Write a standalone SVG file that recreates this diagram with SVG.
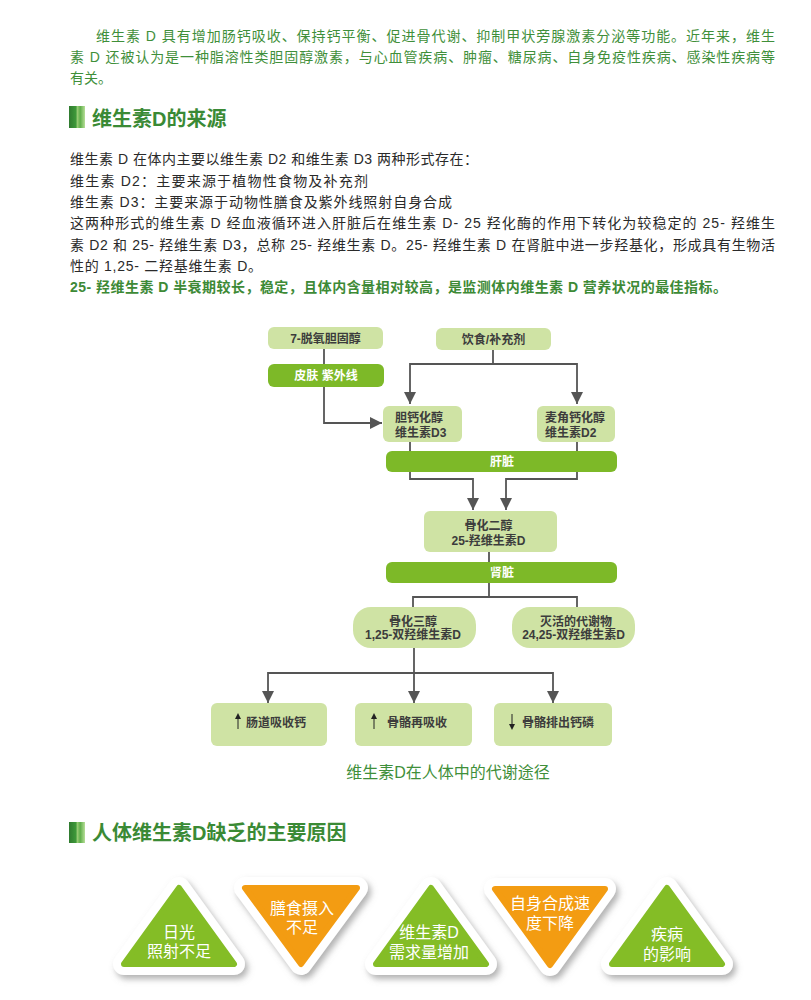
<svg xmlns="http://www.w3.org/2000/svg" width="811" height="1000" viewBox="0 0 811 1000">
<defs>
<style>
text{font-family:"Liberation Sans","Noto Sans CJK SC",sans-serif}
.para{font-size:14px;fill:#3f8f3a}
.body{font-size:14px;fill:#2a2a2a}
.hl{font-size:14px;fill:#3d8a36;font-weight:bold}
.head{font-size:20px;font-weight:bold;fill:#3a8a35}
.box{fill:#cfe3a4}
.bar{fill:#7db928}
.bt{font-size:12px;font-weight:bold;fill:#3c3c3c}
.wt{font-size:12px;font-weight:bold;fill:#fff;text-anchor:middle}
.mid{text-anchor:middle}
.conn{fill:none;stroke:#555;stroke-width:1.8}
.tw{fill:#fff;stroke:#fff;stroke-width:22;stroke-linejoin:round}
.tg{fill:#84bd26;stroke:#84bd26;stroke-width:6;stroke-linejoin:round}
.to{fill:#f39c12;stroke:#f39c12;stroke-width:6;stroke-linejoin:round}
.tt{font-size:16px;fill:#fff;text-anchor:middle}
.cap{font-size:16px;fill:#3f8f3a;text-anchor:middle}
</style>
<marker id="arr" viewBox="0 0 10 10" refX="10" refY="5" markerWidth="12" markerHeight="12" markerUnits="userSpaceOnUse" orient="auto">
<path d="M0,0 L10,5 L0,10 z" fill="#555"/>
</marker>
<linearGradient id="icon" x1="0" y1="0" x2="1" y2="0">
<stop offset="0" stop-color="#2f7a2f"/>
<stop offset="0.45" stop-color="#3f9a3a"/>
<stop offset="0.5" stop-color="#9fd07a"/>
<stop offset="0.7" stop-color="#5fae4a"/>
<stop offset="1" stop-color="#b7de98"/>
</linearGradient>
<filter id="sh" x="-20%" y="-20%" width="150%" height="150%">
<feDropShadow dx="3" dy="4" stdDeviation="3" flood-color="#888" flood-opacity="0.65"/>
</filter>
</defs>
<rect width="811" height="1000" fill="#fff"/>

<g id="intro">
<text class="para" x="96" y="41" textLength="679" lengthAdjust="spacing">维生素 D 具有增加肠钙吸收、保持钙平衡、促进骨代谢、抑制甲状旁腺激素分泌等功能。近年来，维生</text>
<text class="para" x="70" y="62" textLength="705" lengthAdjust="spacing">素 D 还被认为是一种脂溶性类胆固醇激素，与心血管疾病、肿瘤、糖尿病、自身免疫性疾病、感染性疾病等</text>
<text class="para" x="70" y="83">有关。</text>
</g>

<g id="heading1">
<rect x="69" y="106" width="16" height="22" fill="url(#icon)"/>
<text class="head" x="92" y="126">维生素D的来源</text>
</g>

<g id="source-text">
<text class="body" x="70" y="164" textLength="408" lengthAdjust="spacing">维生素 D 在体内主要以维生素 D2 和维生素 D3 两种形式存在：</text>
<text class="body" x="70" y="185.5" textLength="298" lengthAdjust="spacing">维生素 D2：主要来源于植物性食物及补充剂</text>
<text class="body" x="70" y="207" textLength="382" lengthAdjust="spacing">维生素 D3：主要来源于动物性膳食及紫外线照射自身合成</text>
<text class="body" x="70" y="228" textLength="705" lengthAdjust="spacing">这两种形式的维生素 D 经血液循环进入肝脏后在维生素 D- 25 羟化酶的作用下转化为较稳定的 25- 羟维生</text>
<text class="body" x="70" y="249.5" textLength="705" lengthAdjust="spacing">素 D2 和 25- 羟维生素 D3，总称 25- 羟维生素 D。25- 羟维生素 D 在肾脏中进一步羟基化，形成具有生物活</text>
<text class="body" x="70" y="271" textLength="192" lengthAdjust="spacing">性的 1,25- 二羟基维生素 D。</text>
<text class="hl" x="70" y="292" textLength="657" lengthAdjust="spacing">25- 羟维生素 D 半衰期较长，稳定，且体内含量相对较高，是监测体内维生素 D 营养状况的最佳指标。</text>
</g>

<g id="connectors">
<path class="conn" d="M324,349 V364"/>
<path class="conn" d="M324,387 V423 H382" marker-end="url(#arr)"/>
<path class="conn" d="M493,350 V364 H410 V404" marker-end="url(#arr)"/>
<path class="conn" d="M493,364 H577 V404" marker-end="url(#arr)"/>
<path class="conn" d="M410,442 V479 H473 V510" marker-end="url(#arr)"/>
<path class="conn" d="M577,442 V479 H506 V510" marker-end="url(#arr)"/>
<path class="conn" d="M489,552 V597 H413 V607"/>
<path class="conn" d="M489,597 H577 V607"/>
<path class="conn" d="M414,648 V703" marker-end="url(#arr)"/>
<path class="conn" d="M414,673 H268 V703" marker-end="url(#arr)"/>
<path class="conn" d="M414,673 H553 V703" marker-end="url(#arr)"/>
</g>

<g id="n-7dhc">
<rect class="box" x="268" y="327" width="115" height="22" rx="6"/>
<text class="bt mid" x="325.5" y="342.5">7-脱氧胆固醇</text>
</g>
<g id="n-skin">
<rect class="bar" x="268" y="364" width="116" height="23" rx="6"/>
<text class="wt" x="326" y="380">皮肤 紫外线</text>
</g>
<g id="n-diet">
<rect class="box" x="436" y="328" width="115" height="22" rx="6"/>
<text class="bt mid" x="493.5" y="343.5">饮食/补充剂</text>
</g>
<g id="n-d3">
<rect class="box" x="383" y="406" width="79" height="36" rx="6"/>
<text class="bt" x="395" y="421.5">胆钙化醇</text>
<text class="bt" x="395" y="436.5">维生素D3</text>
</g>
<g id="n-d2">
<rect class="box" x="537" y="406" width="78" height="36" rx="6"/>
<text class="bt" x="545" y="421.5">麦角钙化醇</text>
<text class="bt" x="545" y="436.5">维生素D2</text>
</g>
<g id="n-liver">
<rect class="bar" x="386" y="451" width="231" height="21" rx="6"/>
<text class="wt" x="502" y="466">肝脏</text>
</g>
<g id="n-25ohd">
<rect class="box" x="424" y="511" width="133" height="41" rx="6"/>
<text class="bt mid" x="488.5" y="529.5">骨化二醇</text>
<text class="bt mid" x="488.5" y="544.5">25-羟维生素D</text>
</g>
<g id="n-kidney">
<rect class="bar" x="386" y="562" width="231" height="21" rx="6"/>
<text class="wt" x="502" y="577">肾脏</text>
</g>
<g id="n-calcitriol">
<rect class="box" x="353" y="607" width="123" height="41" rx="18"/>
<text class="bt mid" x="413" y="625.5">骨化三醇</text>
<text class="bt mid" x="413" y="639">1,25-双羟维生素D</text>
</g>
<g id="n-inactive">
<rect class="box" x="512" y="607" width="123" height="41" rx="18"/>
<text class="bt mid" x="576" y="625.5">灭活的代谢物</text>
<text class="bt mid" x="573.5" y="639">24,25-双羟维生素D</text>
</g>
<g id="n-intestine">
<rect class="box" x="211" y="703" width="116" height="43" rx="6"/>
<path d="M238,729 V717" stroke="#222" stroke-width="1"/>
<path d="M235,719 L238,713 L241,719 z" fill="#222"/>
<text class="bt" x="246" y="726.5">肠道吸收钙</text>
</g>
<g id="n-resorb">
<rect class="box" x="355" y="703" width="117" height="43" rx="6"/>
<path d="M374,729 V717" stroke="#222" stroke-width="1"/>
<path d="M371,719 L374,713 L377,719 z" fill="#222"/>
<text class="bt" x="387" y="726.5">骨骼再吸收</text>
</g>
<g id="n-excrete">
<rect class="box" x="494" y="703" width="118" height="43" rx="6"/>
<path d="M512,714 V726" stroke="#222" stroke-width="1"/>
<path d="M509,724 L512,730 L515,724 z" fill="#222"/>
<text class="bt" x="522" y="726.5">骨骼排出钙磷</text>
</g>

<g id="caption">
<text class="cap" x="448" y="778">维生素D在人体中的代谢途径</text>
</g>

<g id="heading2">
<rect x="69" y="822" width="16" height="21" fill="url(#icon)"/>
<text class="head" x="92" y="840">人体维生素D缺乏的主要原因</text>
</g>

<g id="t-sun">
<path class="tw" filter="url(#sh)" d="M179,888 L234,964 L124,964 Z"/>
<path class="tg" d="M179,888 L234,964 L124,964 Z"/>
<text class="tt" x="179" y="938">日光</text>
<text class="tt" x="179" y="957">照射不足</text>
</g>
<g id="t-diet">
<path class="tw" filter="url(#sh)" d="M245,888 L357,888 L301,964 Z"/>
<path class="to" d="M245,888 L357,888 L301,964 Z"/>
<text class="tt" x="302" y="914">膳食摄入</text>
<text class="tt" x="302" y="933">不足</text>
</g>
<g id="t-demand">
<path class="tw" filter="url(#sh)" d="M431,888 L486,964 L376,964 Z"/>
<path class="tg" d="M431,888 L486,964 L376,964 Z"/>
<text class="tt" x="429" y="938">维生素D</text>
<text class="tt" x="429" y="958">需求量增加</text>
</g>
<g id="t-synth">
<path class="tw" filter="url(#sh)" d="M495,889 L605,889 L550,965 Z"/>
<path class="to" d="M495,889 L605,889 L550,965 Z"/>
<text class="tt" x="550" y="909">自身合成速</text>
<text class="tt" x="550" y="929">度下降</text>
</g>
<g id="t-disease">
<path class="tw" filter="url(#sh)" d="M667,888 L722,964 L612,964 Z"/>
<path class="tg" d="M667,888 L722,964 L612,964 Z"/>
<text class="tt" x="667" y="940">疾病</text>
<text class="tt" x="667" y="960">的影响</text>
</g>
</svg>
